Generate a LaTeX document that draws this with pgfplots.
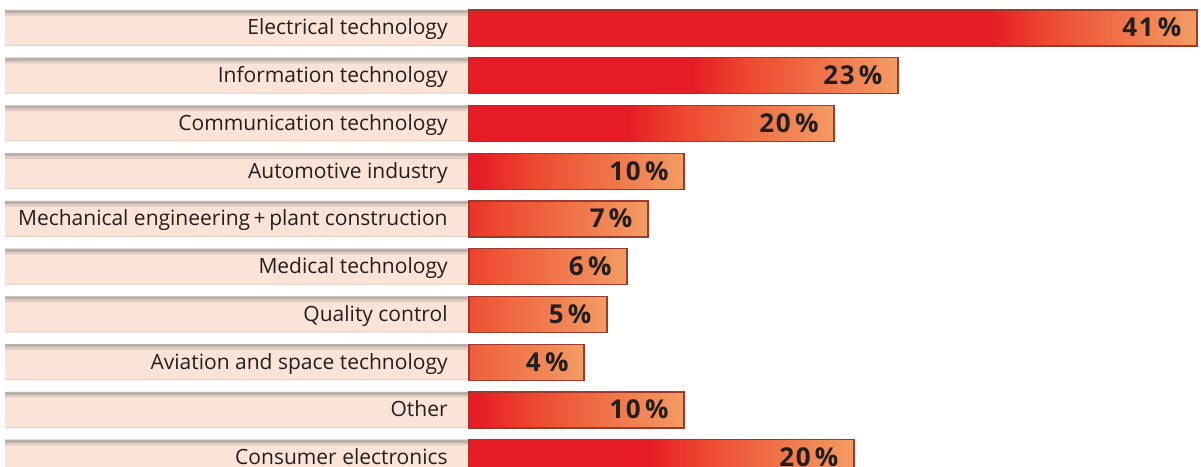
\documentclass[border=0pt]{standalone}
\usepackage{pgfplots}
\pgfplotsset{compat=1.18}
\usepackage{pgfplotstable}
\usepackage{fontspec}
\setmainfont{Open Sans}
\newfontfamily\valfont{Open Sans}[LetterSpace=6]
\definecolor{cRed}{HTML}{E61D26}
\definecolor{cOR}{HTML}{ED4930}
\definecolor{cO}{HTML}{EF6B44}
\definecolor{cS}{HTML}{F39C64}
\definecolor{cEdge}{HTML}{9C3B2C}
\definecolor{pk}{HTML}{FCE3D8}
\definecolor{pkT}{HTML}{A59D99}
\definecolor{cText}{HTML}{231F20}
\pgfdeclarehorizontalshading{b1}{100bp}{color(0bp)=(cRed); color(60.9bp)=(cRed); color(64.7bp)=(cOR); color(68.8bp)=(cO); color(75bp)=(cS); color(100bp)=(cS)}
\pgfdeclarehorizontalshading{b2}{100bp}{color(0bp)=(cRed); color(51.1bp)=(cRed); color(57.5bp)=(cOR); color(64.5bp)=(cO); color(75bp)=(cS); color(100bp)=(cS)}
\pgfdeclarehorizontalshading{b3}{100bp}{color(0bp)=(cRed); color(46.9bp)=(cRed); color(54.5bp)=(cOR); color(62.7bp)=(cO); color(75bp)=(cS); color(100bp)=(cS)}
\pgfdeclarehorizontalshading{b4}{100bp}{color(0bp)=(cRed); color(27.3bp)=(cRed); color(40.1bp)=(cOR); color(54.1bp)=(cO); color(75bp)=(cS); color(100bp)=(cS)}
\pgfdeclarehorizontalshading{b5}{100bp}{color(0bp)=(cRed); color(17.7bp)=(cRed); color(33.1bp)=(cOR); color(49.9bp)=(cO); color(75bp)=(cS); color(100bp)=(cS)}
\pgfdeclarehorizontalshading{b6}{100bp}{color(0bp)=(cRed); color(10.1bp)=(cRed); color(27.5bp)=(cOR); color(46.5bp)=(cO); color(75bp)=(cS); color(100bp)=(cS)}
\pgfdeclarehorizontalshading{b7}{100bp}{color(0bp)=(cRed); color(0.7bp)=(cRed); color(20.7bp)=(cOR); color(42.4bp)=(cO); color(75bp)=(cS); color(100bp)=(cS)}
\pgfdeclarehorizontalshading{b8}{100bp}{color(0bp)=(cRed!41!cOR); color(9.8bp)=(cOR); color(35.9bp)=(cO); color(75bp)=(cS); color(100bp)=(cS)}
\pgfdeclarehorizontalshading{b10}{100bp}{color(0bp)=(cRed); color(48.4bp)=(cRed); color(55.5bp)=(cOR); color(63.3bp)=(cO); color(75bp)=(cS); color(100bp)=(cS)}

% row, label
\pgfplotstableread[col sep=comma]{
row,x,lab
1,-1.183,Electrical technology
2,-1.183,Information technology
3,-1.183,Communication technology
4,-1.183,Automotive industry
5,-1.183,Mechanical engineering\,+\,plant construction
6,-1.183,Medical technology
7,-1.183,Quality control
8,-1.183,Aviation and space technology
9,-1.183,Other
10,-1.183,Consumer electronics
}\labels

\pgfplotstableread{
x row
-26.13 1
-26.13 2
-26.13 3
-26.13 4
-26.13 5
-26.13 6
-26.13 7
-26.13 8
-26.13 9
-26.13 10
}\boxes

\pgfplotsset{
  valbar/.style={xbar, bar width=18pt, bar shift=0pt, draw=cEdge, line width=0.6pt, shading=#1,
    point meta=explicit, nodes near coords={\pgfmathprintnumber[assume math mode=true]{\pgfplotspointmeta}\,\%},
    every node near coord/.append style={font=\valfont\bfseries\fontsize{13}{15}\selectfont, text=cText,
      anchor=base east, inner sep=0pt, xshift=-7.5pt, yshift=-4.5pt}},
}

\begin{document}
\begin{tikzpicture}
\begin{axis}[
  name=ax,
  scale only axis, width=600.5pt, height=233.5pt,
  xmin=-26.414, xmax=41.225, ymin=0.4136, ymax=10.194, y dir=reverse,
  hide axis, clip=true,
]
% label boxes
\addplot[xbar, bar width=18pt, bar shift=0pt, draw=none, fill=pk] table[x=x, y=row] {\boxes};
% top shadow line of the label boxes
\addplot[xbar, bar width=1.6pt, bar shift=8.2pt, draw=none, fill=pkT!75!pk] table[x=x, y=row] {\boxes};
\addplot[xbar, bar width=1.2pt, bar shift=6.8pt, draw=none, fill=pkT!35!pk] table[x=x, y=row] {\boxes};
\addplot[xbar, bar width=0.6pt, bar shift=-8.7pt, draw=none, fill=pkT!25!pk] table[x=x, y=row] {\boxes};
% category names
\addplot[xbar, bar width=18pt, bar shift=0pt, draw=none, fill=none,
  point meta=explicit symbolic, nodes near coords,
  every node near coord/.append style={font=\fontsize{10.5}{12}\selectfont, text=cText,
    anchor=base east, inner sep=0pt, yshift=-3.5pt}]
  table[x=x, y=row, meta=lab] {\labels};
% value bars: (bar length, row) [percentage]
\addplot[valbar=b1]  coordinates {(41.00,1) [41]};
\addplot[valbar=b2]  coordinates {(24.16,2) [23]};
\addplot[valbar=b3]  coordinates {(20.56,3) [20]};
\addplot[valbar=b4]  coordinates {(12.11,4) [10]};
\addplot[valbar=b5]  coordinates {(10.08,5) [7]};
\addplot[valbar=b6]  coordinates {(8.90,6) [6]};
\addplot[valbar=b7]  coordinates {(7.77,7) [5]};
\addplot[valbar=b8]  coordinates {(6.48,8) [4]};
\addplot[valbar=b4]  coordinates {(12.11,9) [10]};
\addplot[valbar=b10] coordinates {(21.68,10) [20]};
\end{axis}
\pgfresetboundingbox
\path[use as bounding box] (ax.south west) rectangle (ax.north east);
\end{tikzpicture}
\end{document}
